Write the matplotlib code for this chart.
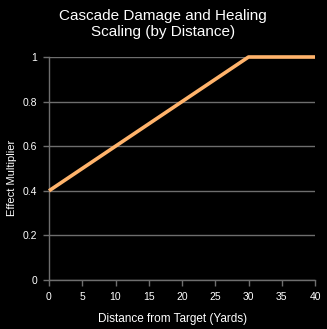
import matplotlib
matplotlib.use("Agg")
import matplotlib.pyplot as plt

distance = [0, 30, 40]
multiplier = [0.4, 1.0, 1.0]
x_ticks = [0, 5, 10, 15, 20, 25, 30, 35, 40]
y_ticks = [0, 0.2, 0.4, 0.6, 0.8, 1]
y_tick_labels = ["0", "0.2", "0.4", "0.6", "0.8", "1"]

plt.rcParams['font.family'] = ['Liberation Sans', 'DejaVu Sans']

W, H = 327, 329
fig = plt.figure(figsize=(W/100, H/100), dpi=100, facecolor='black')
ax = fig.add_axes([49/W, 1-280/H, (315-49)/W, (280-57)/H])
ax.set_facecolor('black')

grid_col = '#6e6e6e'
ax.plot(distance, multiplier, color='#FFB36B', lw=2.6, solid_capstyle='butt', zorder=3, clip_on=False)

ax.set_xlim(0, 40)
ax.set_ylim(0, 1)
ax.set_xticks(x_ticks)
ax.set_yticks(y_ticks)
ax.set_yticklabels(y_tick_labels)
ax.yaxis.grid(True, color=grid_col, lw=1)
ax.set_axisbelow(True)

for s in ['top', 'right']:
    ax.spines[s].set_visible(False)
for s in ['left', 'bottom']:
    ax.spines[s].set_color(grid_col)
    ax.spines[s].set_linewidth(1)

ax.tick_params(colors=grid_col, labelcolor='white', labelsize=7.5, length=4, width=1, pad=4.5)

ax.set_xlabel('Distance from Target (Yards)', color='white', fontsize=8.5, va='center')
ax.xaxis.set_label_coords((173-49)/266, (280-319)/223)
ax.set_ylabel('Effect Multiplier', color='white', fontsize=8, va='center')
ax.yaxis.set_label_coords((12-49)/266, (280-178)/223)

fig.text(163/W, 1-9/H, 'Cascade Damage and Healing\nScaling (by Distance)', color='white',
         fontsize=11, ha='center', va='top', linespacing=1.2)

fig.savefig('out.png', dpi=100, facecolor='black')
